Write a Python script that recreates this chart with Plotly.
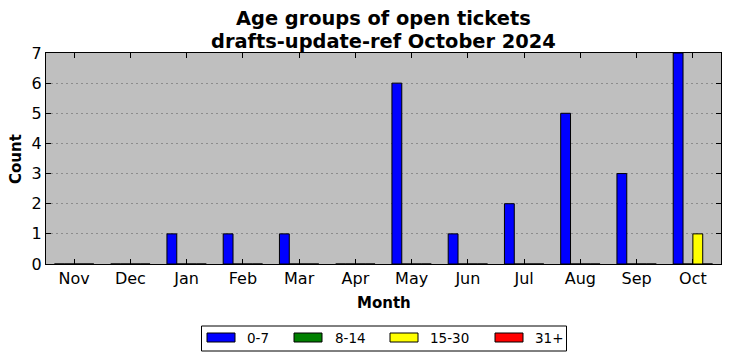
import plotly.graph_objects as go

months = ["Nov", "Dec", "Jan", "Feb", "Mar", "Apr", "May", "Jun", "Jul", "Aug", "Sep", "Oct"]
age_groups = ["0-7", "8-14", "15-30", "31+"]
colors = ["#0000ff", "#008000", "#ffff00", "#ff0000"]
counts_0_7 = [0, 0, 1, 1, 1, 0, 6, 1, 2, 5, 3, 7]
counts_8_14 = [0, 0, 0, 0, 0, 0, 0, 0, 0, 0, 0, 0]
counts_15_30 = [0, 0, 0, 0, 0, 0, 0, 0, 0, 0, 0, 1]
counts_31p = [0, 0, 0, 0, 0, 0, 0, 0, 0, 0, 0, 0]
series = [counts_0_7, counts_8_14, counts_15_30, counts_31p]

W, H = 731, 361
L, R, T, B = 46, 721, 53, 264  # plot area pixels
bw = 0.175

fig = go.Figure()
xs = list(range(len(months)))
for i, (name, vals, col) in enumerate(zip(age_groups, series, colors)):
    fig.add_trace(go.Bar(
        x=xs, y=vals, name=name, width=bw, offset=(i - 2) * bw,
        marker=dict(color=col, line=dict(color="black", width=1)),
        showlegend=False,
    ))

def px(xp):
    return (xp - L) / (R - L)

def py(yp):
    return (B - yp) / (B - T)

shapes = []
annotations = []
# legend box
shapes.append(dict(type="rect", xref="paper", yref="paper",
                   x0=px(201.5), x1=px(566.5), y0=py(351), y1=py(326),
                   line=dict(color="black", width=1), fillcolor="white"))
patch_x = [207, 294, 390, 495]
text_x = [245, 333, 428, 533]
for name, col, xp, tx in zip(age_groups, colors, patch_x, text_x):
    shapes.append(dict(type="rect", xref="paper", yref="paper",
                       x0=px(xp), x1=px(xp + 28), y0=py(342), y1=py(333),
                       line=dict(color="black", width=1), fillcolor=col))
    annotations.append(dict(text=name, xref="paper", yref="paper", x=px(tx), y=py(338),
                            xanchor="left", yanchor="middle", showarrow=False,
                            font=dict(size=13.5, color="black")))

annotations.append(dict(text="<b>Age groups of open tickets</b>", xref="paper", yref="paper",
                        x=0.5, y=py(19), xanchor="center", yanchor="middle", showarrow=False,
                        font=dict(size=19.4, color="black")))
annotations.append(dict(text="<b>drafts-update-ref October 2024</b>", xref="paper", yref="paper",
                        x=0.5, y=py(41), xanchor="center", yanchor="middle", showarrow=False,
                        font=dict(size=19.4, color="black")))
annotations.append(dict(text="<b>Month</b>", xref="paper", yref="paper",
                        x=px(383.5), y=py(303), xanchor="center", yanchor="middle", showarrow=False,
                        font=dict(size=15, color="black")))
annotations.append(dict(text="<b>Count</b>", xref="paper", yref="paper",
                        x=px(16), y=py(159), xanchor="center", yanchor="middle", showarrow=False,
                        textangle=-90, font=dict(size=15, color="black")))

fig.update_layout(
    width=W, height=H,
    margin=dict(l=L, r=W - R, t=T, b=H - B, autoexpand=False),
    paper_bgcolor="white", plot_bgcolor="#bfbfbf",
    barmode="overlay",
    font=dict(family="DejaVu Sans", color="black"),
    shapes=shapes, annotations=annotations,
    xaxis=dict(range=[-0.5, 11.5], tickmode="array", tickvals=xs, ticktext=months,
               ticks="inside", ticklen=5, tickcolor="black", showgrid=False,
               showline=True, linecolor="black", linewidth=1, mirror="ticks",
               tickfont=dict(size=16), zeroline=False, automargin=False),
    yaxis=dict(range=[0, 7], dtick=1, ticks="inside", ticklen=5, tickcolor="black",
               showgrid=True, gridcolor="#8c8c8c", griddash="2px,3px", gridwidth=1,
               showline=True, linecolor="black", linewidth=1, mirror="ticks",
               tickfont=dict(size=16), zeroline=False, automargin=False),
)

fig.write_html("out.html", config={"displayModeBar": False},
               post_script="document.body.style.margin='0';document.body.style.overflow='hidden';")
